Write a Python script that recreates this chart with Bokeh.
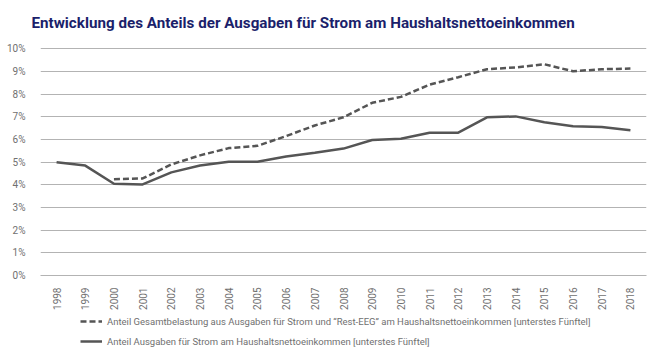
import math
from bokeh.plotting import figure
from bokeh.layouts import column
from bokeh.models import (FixedTicker, PrintfTickFormatter, Legend, LegendItem,
                          ColumnDataSource, Range1d)
from bokeh.embed import file_html
from bokeh.resources import INLINE

years = list(range(1998, 2019))
anteil_strom = [5.0, 4.85, 4.05, 4.02, 4.55, 4.85, 5.02, 5.02, 5.25, 5.42, 5.6,
                5.98, 6.03, 6.3, 6.3, 6.98, 7.02, 6.76, 6.58, 6.55, 6.41]
gesamt_years = list(range(2000, 2019))
anteil_gesamt = [4.25, 4.28, 4.9, 5.3, 5.62, 5.72, 6.15, 6.62, 6.98, 7.62, 7.88,
                 8.42, 8.75, 9.1, 9.18, 9.32, 9.01, 9.1, 9.13]
y_ticks = list(range(0, 11))
title_text = "Entwicklung des Anteils der Ausgaben für Strom am Haushaltsnettoeinkommen"
label_gesamt = "Anteil Gesamtbelastung aus Ausgaben für Strom und \u201cRest-EEG\u201d am Haushaltsnettoeinkommen [unterstes Fünftel]"
label_strom = "Anteil Ausgaben für Strom am Haushaltsnettoeinkommen [unterstes Fünftel]"

FONT = "Roboto"
GRID = "#b3b3b3"
TXT = "#707070"
LINE = "#555555"

p = figure(width=651, height=312, output_backend="svg", toolbar_location=None,
           x_range=Range1d(1997.44, 2018.56), y_range=Range1d(0, 10.28),
           min_border_left=40, min_border_right=5, min_border_top=39,
           min_border_bottom=35, title=title_text)

p.title.text_font = FONT
p.title.text_font_style = "bold"
p.title.text_font_size = "15.2px"
p.title.text_color = "#1b1f6b"
p.title.offset = -9
p.title.standoff = 22

p.outline_line_color = None
p.background_fill_color = "white"
p.border_fill_color = "white"

p.xgrid.visible = False
p.ygrid.ticker = FixedTicker(ticks=y_ticks)
p.ygrid.grid_line_color = GRID
p.ygrid.grid_line_width = 1

p.yaxis.ticker = FixedTicker(ticks=y_ticks)
p.yaxis.formatter = PrintfTickFormatter(format="%d%%")
p.yaxis.axis_line_color = None
p.yaxis.major_tick_line_color = None
p.yaxis.minor_tick_line_color = None
p.yaxis.major_label_text_font = FONT
p.yaxis.major_label_text_font_size = "10px"
p.yaxis.major_label_text_color = TXT
p.yaxis.major_label_standoff = 9

p.xaxis.ticker = FixedTicker(ticks=years)
p.xaxis.formatter = PrintfTickFormatter(format="%d")
p.xaxis.axis_line_color = GRID
p.xaxis.major_tick_line_color = None
p.xaxis.minor_tick_line_color = None
p.xaxis.major_label_orientation = math.pi / 2
p.xaxis.major_label_text_font = FONT
p.xaxis.major_label_text_font_size = "10px"
p.xaxis.major_label_text_color = TXT
p.xaxis.major_label_standoff = 6

src_g = ColumnDataSource(dict(x=gesamt_years, y=anteil_gesamt))
src_s = ColumnDataSource(dict(x=years, y=anteil_strom))
p.line("x", "y", source=src_g, line_color=LINE, line_width=2.5, line_dash="6 3")
p.line("x", "y", source=src_s, line_color=LINE, line_width=2.5)

# legend panel below the chart (series lie outside its view; only the legend shows)
q = figure(width=651, height=40, output_backend="svg", toolbar_location=None,
           x_range=Range1d(0, 1), y_range=Range1d(0, 1),
           x_axis_location=None, y_axis_location=None,
           min_border_left=0, min_border_right=0, min_border_top=0, min_border_bottom=0)
q.grid.visible = False
q.outline_line_color = None
q.background_fill_alpha = 0
q.border_fill_alpha = 0
lg = q.line("x", "y", source=src_g, line_color=LINE, line_width=2.5, line_dash="6 3")
ls = q.line("x", "y", source=src_s, line_color=LINE, line_width=2.5)

legend = Legend(items=[LegendItem(label=label_gesamt, renderers=[lg]),
                       LegendItem(label=label_strom, renderers=[ls])],
                orientation="vertical", location=(40, 4))
legend.label_text_font = FONT
legend.label_text_font_size = "9.5px"
legend.label_text_color = TXT
legend.border_line_color = None
legend.background_fill_alpha = 0
legend.glyph_width = 22
legend.glyph_height = 14
legend.label_standoff = 5
legend.spacing = 6
legend.padding = 0
legend.margin = 0
legend.label_height = 14
q.add_layout(legend, "center")

layout = column(p, q, spacing=0)
open("out.html", "w").write(file_html(layout, INLINE))
